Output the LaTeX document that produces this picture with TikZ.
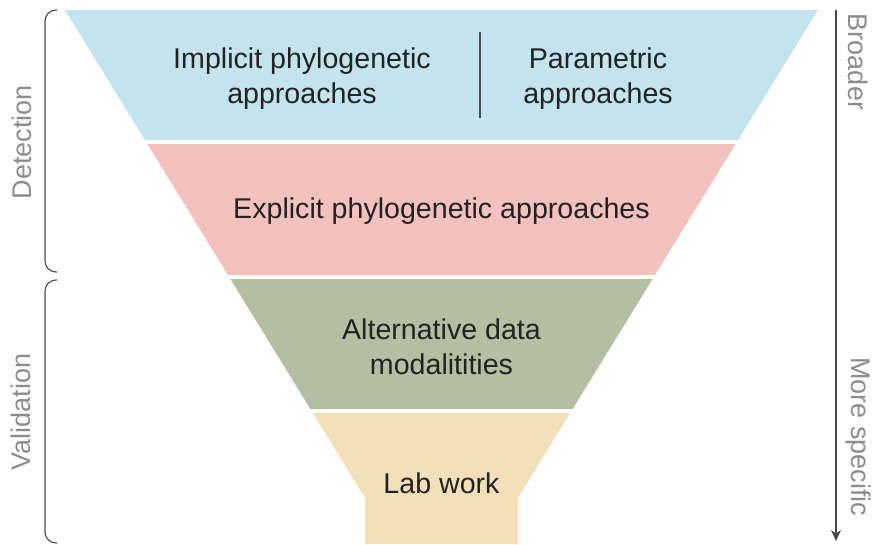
\documentclass[tikz,border=0pt]{standalone}
\usepackage{fontspec}
\setmainfont{Liberation Sans}
\usetikzlibrary{arrows.meta}
\definecolor{cblue}{HTML}{C3E4EF}
\definecolor{cpink}{HTML}{F4C2BE}
\definecolor{cgreen}{HTML}{B3BFA3}
\definecolor{ctan}{HTML}{F4DFBB}
\definecolor{ctext}{HTML}{222222}
\definecolor{cside}{HTML}{8C8C8C}
\definecolor{cline}{HTML}{4A4A4A}
\begin{document}
\begin{tikzpicture}[x=1pt,y=-1pt,
  maintext/.style={text=ctext,align=center,font=\fontsize{28.6}{35}\selectfont,inner sep=0pt},
  sidetext/.style={text=cside,font=\fontsize{27}{32}\selectfont,inner sep=0pt},
  bracket/.style={draw=cline,line width=1.1pt,rounded corners=11pt},
  axisline/.style={draw=cline,line width=1.1pt}]
\useasboundingbox (0,0) rectangle (874,544);
% funnel layers
\fill[cblue] (65,10) -- (818,10) -- (738,140) -- (145,140) -- cycle;
\fill[cpink] (147.4,144) -- (735.6,144) -- (655,275) -- (228,275) -- cycle;
\fill[cgreen] (230.4,279) -- (652.6,279) -- (572.6,409) -- (310.4,409) -- cycle;
\fill[ctan] (312.9,413) -- (570.1,413) -- (518,498) -- (518,544) -- (365,544) -- (365,498) -- cycle;
% divider
\coordinate (d1) at (480,32);
\coordinate (d2) at (480,118);
\draw[axisline] (d1) -- (d2);
% texts
\node[maintext] (impl) at (302,79) {Implicit phylogenetic\\approaches};
\node[maintext] (param) at (598,79) {Parametric\\approaches};
\node[maintext] (expl) at (441.5,211) {Explicit phylogenetic approaches};
\node[maintext] (alt) at (441.5,347) {Alternative data\\modalitities};
\node[maintext] (lab) at (441.5,483) {Lab work};
% brackets
\draw[bracket] (57,10) -- (45,10) -- (45,272) -- (57,272);
\draw[bracket] (57,280) -- (45,280) -- (45,543) -- (57,543);
\node[sidetext,rotate=90] (det) at (22,142) {Detection};
\node[sidetext,rotate=90] (val) at (21,412) {Validation};
% right arrow
\coordinate (a1) at (836,10);
\coordinate (a2) at (836,541);
\draw[axisline,-{Stealth[length=11pt,width=10pt]}] (a1) -- (a2);
\node[sidetext,rotate=-90] (broad) at (858,62) {Broader};
\node[sidetext,rotate=-90] (spec) at (858,437) {More specific};
\end{tikzpicture}
\end{document}
